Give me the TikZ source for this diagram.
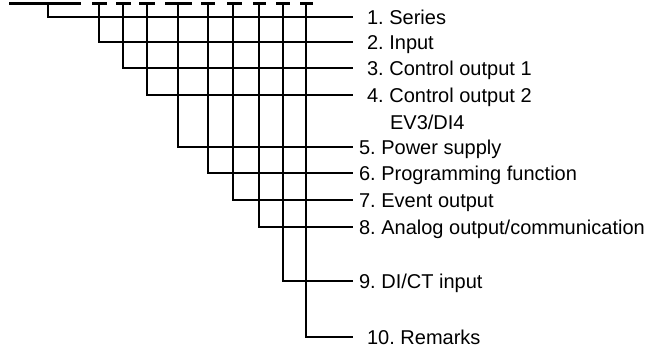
\documentclass[tikz,border=0pt]{standalone}
\usepackage{fontspec}
\setmainfont{Liberation Sans}
\frenchspacing
\begin{document}
\begin{tikzpicture}[x=1pt,y=-1pt,line width=2.2pt,
  lbl/.style={anchor=west,inner xsep=5pt,inner ysep=0pt,text height=14.5pt,text depth=0pt,font=\fontsize{20}{24}\selectfont},
  lblw/.style={lbl,inner xsep=13pt}]
\useasboundingbox (0,0) rectangle (648,349);

\node[lblw] (l1) at (353,17) {1. Series};
\node[lblw] (l2) at (353,42) {2. Input};
\node[lblw] (l3) at (353,68) {3. Control output 1};
\node[lblw] (l4) at (353,95) {4. Control output 2};
\node[lbl] (ev) at (384,122) {EV3/DI4};
\node[lbl] (l5) at (353,147) {5. Power supply};
\node[lbl] (l6) at (353,173) {6. Programming function};
\node[lbl] (l7) at (353,200) {7. Event output};
\node[lbl] (l8) at (353,227) {8. Analog output/communication};
\node[lbl] (l9) at (353,281) {9. DI/CT input};
\node[lblw] (l10) at (353,337) {10. Remarks};

\foreach \n/\a/\b/\v in {1/9/81/48,2/92/107/99,3/116/131/123,4/139/155/147,5/165/192/178,
    6/201/215/208,7/227/242/233,8/253/266/259,9/276/290/283,10/300/313/306}{
  \coordinate (t\n) at (\v,3.5);
  \draw (\a,3.5) -- (\b,3.5);
  \draw (t\n) |- (l\n.west);
}

\end{tikzpicture}
\end{document}
